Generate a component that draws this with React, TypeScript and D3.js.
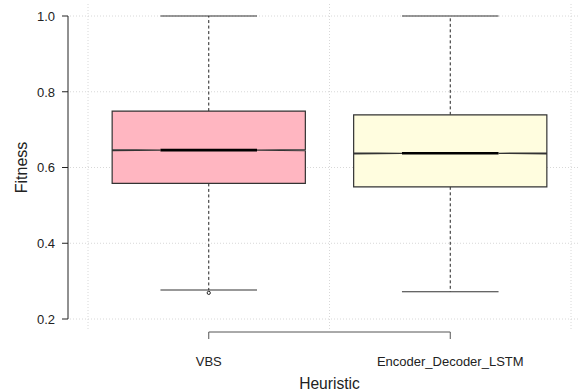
import { useEffect, useRef } from 'react';
import * as d3 from 'd3';

// box statistics
const categories = ['VBS', 'Encoder_Decoder_LSTM'];
const q1 = [0.558, 0.549];
const median = [0.646, 0.6375];
const q3 = [0.749, 0.739];
const whiskerLow = [0.2766, 0.272];
const whiskerHigh = [1.0, 1.0];
const outliers = [[0.269], []];
const notchHalf = [0.0014, 0.0014];
const fills = ['#FFB6C1', '#FFFDDF'];
const yTicks = [0.2, 0.4, 0.6, 0.8, 1.0];

const W = 579;
const H = 392;

export default function App() {
  const svgRef = useRef<SVGSVGElement>(null);

  useEffect(() => {
    if (!svgRef.current) return;
    const svg = d3.select(svgRef.current);
    svg.selectAll('*').remove();

    const y = d3.scaleLinear().domain([0.2, 1.0]).range([319, 16]);
    const x = d3.scaleLinear().domain([0.5, 2.5]).range([88, 571]);
    const boxHalf = x(1.4) - x(1);
    const font = "'Liberation Sans', Arial, sans-serif";

    // grid
    const grid = svg.append('g')
      .attr('stroke', '#d8d8d8')
      .attr('stroke-dasharray', '1,2')
      .attr('stroke-width', 1);
    grid.selectAll('line.h')
      .data(yTicks)
      .join('line')
      .attr('x1', 70).attr('x2', W)
      .attr('y1', (d) => y(d)).attr('y2', (d) => y(d));
    grid.selectAll('line.v')
      .data([0.5, 1.5, 2.5])
      .join('line')
      .attr('class', 'v')
      .attr('x1', (d) => x(d)).attr('x2', (d) => x(d))
      .attr('y1', 4).attr('y2', 331);

    const boxes = svg.append('g')
      .selectAll('g')
      .data(categories.map((c, i) => ({ c, i })))
      .join('g');

    // whiskers
    boxes.append('line')
      .attr('x1', (d) => x(d.i + 1)).attr('x2', (d) => x(d.i + 1))
      .attr('y1', (d) => y(q3[d.i])).attr('y2', (d) => y(whiskerHigh[d.i]))
      .attr('stroke', '#222').attr('stroke-dasharray', '3,2.5');
    boxes.append('line')
      .attr('x1', (d) => x(d.i + 1)).attr('x2', (d) => x(d.i + 1))
      .attr('y1', (d) => y(q1[d.i])).attr('y2', (d) => y(whiskerLow[d.i]))
      .attr('stroke', '#222').attr('stroke-dasharray', '3,2.5');

    // staples
    [whiskerHigh, whiskerLow].forEach((arr) => {
      boxes.append('line')
        .attr('x1', (d) => x(d.i + 1) - boxHalf / 2)
        .attr('x2', (d) => x(d.i + 1) + boxHalf / 2)
        .attr('y1', (d) => y(arr[d.i])).attr('y2', (d) => y(arr[d.i]))
        .attr('stroke', '#333').attr('stroke-width', 1.1);
    });

    // notched box
    boxes.append('path')
      .attr('d', (d) => {
        const cx = x(d.i + 1);
        const m = median[d.i];
        const n = notchHalf[d.i];
        const pts: [number, number][] = [
          [cx - boxHalf, y(q1[d.i])],
          [cx - boxHalf, y(m - n)],
          [cx - boxHalf / 2, y(m)],
          [cx - boxHalf, y(m + n)],
          [cx - boxHalf, y(q3[d.i])],
          [cx + boxHalf, y(q3[d.i])],
          [cx + boxHalf, y(m + n)],
          [cx + boxHalf / 2, y(m)],
          [cx + boxHalf, y(m - n)],
          [cx + boxHalf, y(q1[d.i])],
        ];
        return d3.line()(pts) + 'Z';
      })
      .attr('fill', (d) => fills[d.i])
      .attr('stroke', '#333')
      .attr('stroke-width', 1.2);

    // median
    boxes.append('line')
      .attr('x1', (d) => x(d.i + 1) - boxHalf / 2)
      .attr('x2', (d) => x(d.i + 1) + boxHalf / 2)
      .attr('y1', (d) => y(median[d.i])).attr('y2', (d) => y(median[d.i]))
      .attr('stroke', '#000').attr('stroke-width', 2.6);

    // outliers
    boxes.selectAll('circle')
      .data((d) => outliers[d.i].map((v) => ({ v, i: d.i })))
      .join('circle')
      .attr('cx', (d) => x(d.i + 1))
      .attr('cy', (d) => y(d.v))
      .attr('r', 1.6)
      .attr('fill', 'none')
      .attr('stroke', '#222');

    // y axis
    const ya = svg.append('g');
    ya.append('line')
      .attr('x1', 68).attr('x2', 68)
      .attr('y1', y(0.2)).attr('y2', y(1.0))
      .attr('stroke', '#222');
    ya.selectAll('line.t')
      .data(yTicks)
      .join('line')
      .attr('class', 't')
      .attr('x1', 62).attr('x2', 68)
      .attr('y1', (d) => y(d)).attr('y2', (d) => y(d))
      .attr('stroke', '#222');
    ya.selectAll('text')
      .data(yTicks)
      .join('text')
      .attr('x', 55)
      .attr('y', (d) => y(d))
      .attr('dy', '0.38em')
      .attr('text-anchor', 'end')
      .attr('font-family', font)
      .attr('font-size', 13)
      .attr('fill', '#222')
      .text((d) => d3.format('.1f')(d));

    // x axis bracket
    const xa = svg.append('g').attr('stroke', '#555');
    xa.append('line')
      .attr('x1', x(1)).attr('x2', x(categories.length))
      .attr('y1', 332).attr('y2', 332);
    xa.selectAll('line.t')
      .data(categories)
      .join('line')
      .attr('class', 't')
      .attr('x1', (_, i) => x(i + 1)).attr('x2', (_, i) => x(i + 1))
      .attr('y1', 332).attr('y2', 339);
    svg.append('g')
      .selectAll('text')
      .data(categories)
      .join('text')
      .attr('x', (_, i) => x(i + 1))
      .attr('y', 365.7)
      .attr('text-anchor', 'middle')
      .attr('font-family', font)
      .attr('font-size', 13)
      .attr('fill', '#222')
      .text((d) => d);

    // axis titles
    svg.append('text')
      .attr('x', x(1.5))
      .attr('y', 388.5)
      .attr('text-anchor', 'middle')
      .attr('font-family', font)
      .attr('font-size', 15.6)
      .attr('fill', '#222')
      .text('Heuristic');
    svg.append('text')
      .attr('transform', `translate(26.5,${(y(0.2) + y(1.0)) / 2}) rotate(-90)`)
      .attr('text-anchor', 'middle')
      .attr('font-family', font)
      .attr('font-size', 16)
      .attr('fill', '#222')
      .text('Fitness');
  }, []);

  return (
    <svg
      ref={svgRef}
      width={W}
      height={H}
      style={{ position: 'absolute', left: 0, top: 0, background: '#fff' }}
    />
  );
}
